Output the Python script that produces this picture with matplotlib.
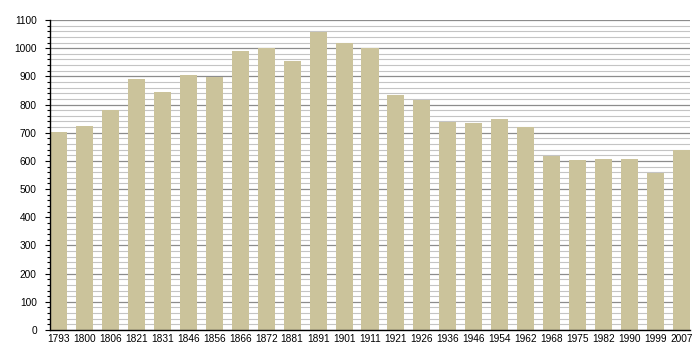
import matplotlib
matplotlib.use("Agg")
import matplotlib.pyplot as plt
from matplotlib.ticker import MultipleLocator

years = ["1793", "1800", "1806", "1821", "1831", "1846", "1856", "1866", "1872",
         "1881", "1891", "1901", "1911", "1921", "1926", "1936", "1946", "1954",
         "1962", "1968", "1975", "1982", "1990", "1999", "2007"]
population = [703, 724, 781, 891, 845, 906, 898, 991, 1001, 955, 1057, 1018,
              1001, 835, 817, 737, 735, 749, 720, 617, 603, 607, 607, 556, 639]

plt.rcParams['font.family'] = ['Liberation Sans', 'DejaVu Sans']

fig = plt.figure(figsize=(7, 3.6), dpi=100)
ax = fig.add_axes([50 / 700, 30 / 360, 640 / 700, 310 / 360])

w = 0.655
x = list(range(len(years)))
ax.bar(x, population, width=w, color="#cbc39b", zorder=3)

ax.set_xlim(-w / 2, len(years) - 1 + w / 2)
ax.set_ylim(0, 1100)
ax.yaxis.set_major_locator(MultipleLocator(100))
ax.yaxis.set_minor_locator(MultipleLocator(20))
ax.grid(which="major", axis="y", color="#8c8c8c", linewidth=0.9, zorder=0)
ax.grid(which="minor", axis="y", color="#c4c4c4", linewidth=0.8, zorder=0)

ax.set_xticks(x)
ax.set_xticklabels(years)
ax.tick_params(axis="x", length=0, pad=3, labelsize=7.3)
ax.tick_params(axis="y", which="major", length=3.5, width=0.8, labelsize=7.3, pad=6)
ax.tick_params(axis="y", which="minor", length=2, width=0.8)

for s in ["top", "right"]:
    ax.spines[s].set_visible(False)
ax.spines["left"].set_linewidth(1.0)
ax.spines["bottom"].set_linewidth(1.0)
ax.spines["left"].set_zorder(4)
ax.spines["bottom"].set_zorder(4)

fig.savefig("out.png", dpi=100)
